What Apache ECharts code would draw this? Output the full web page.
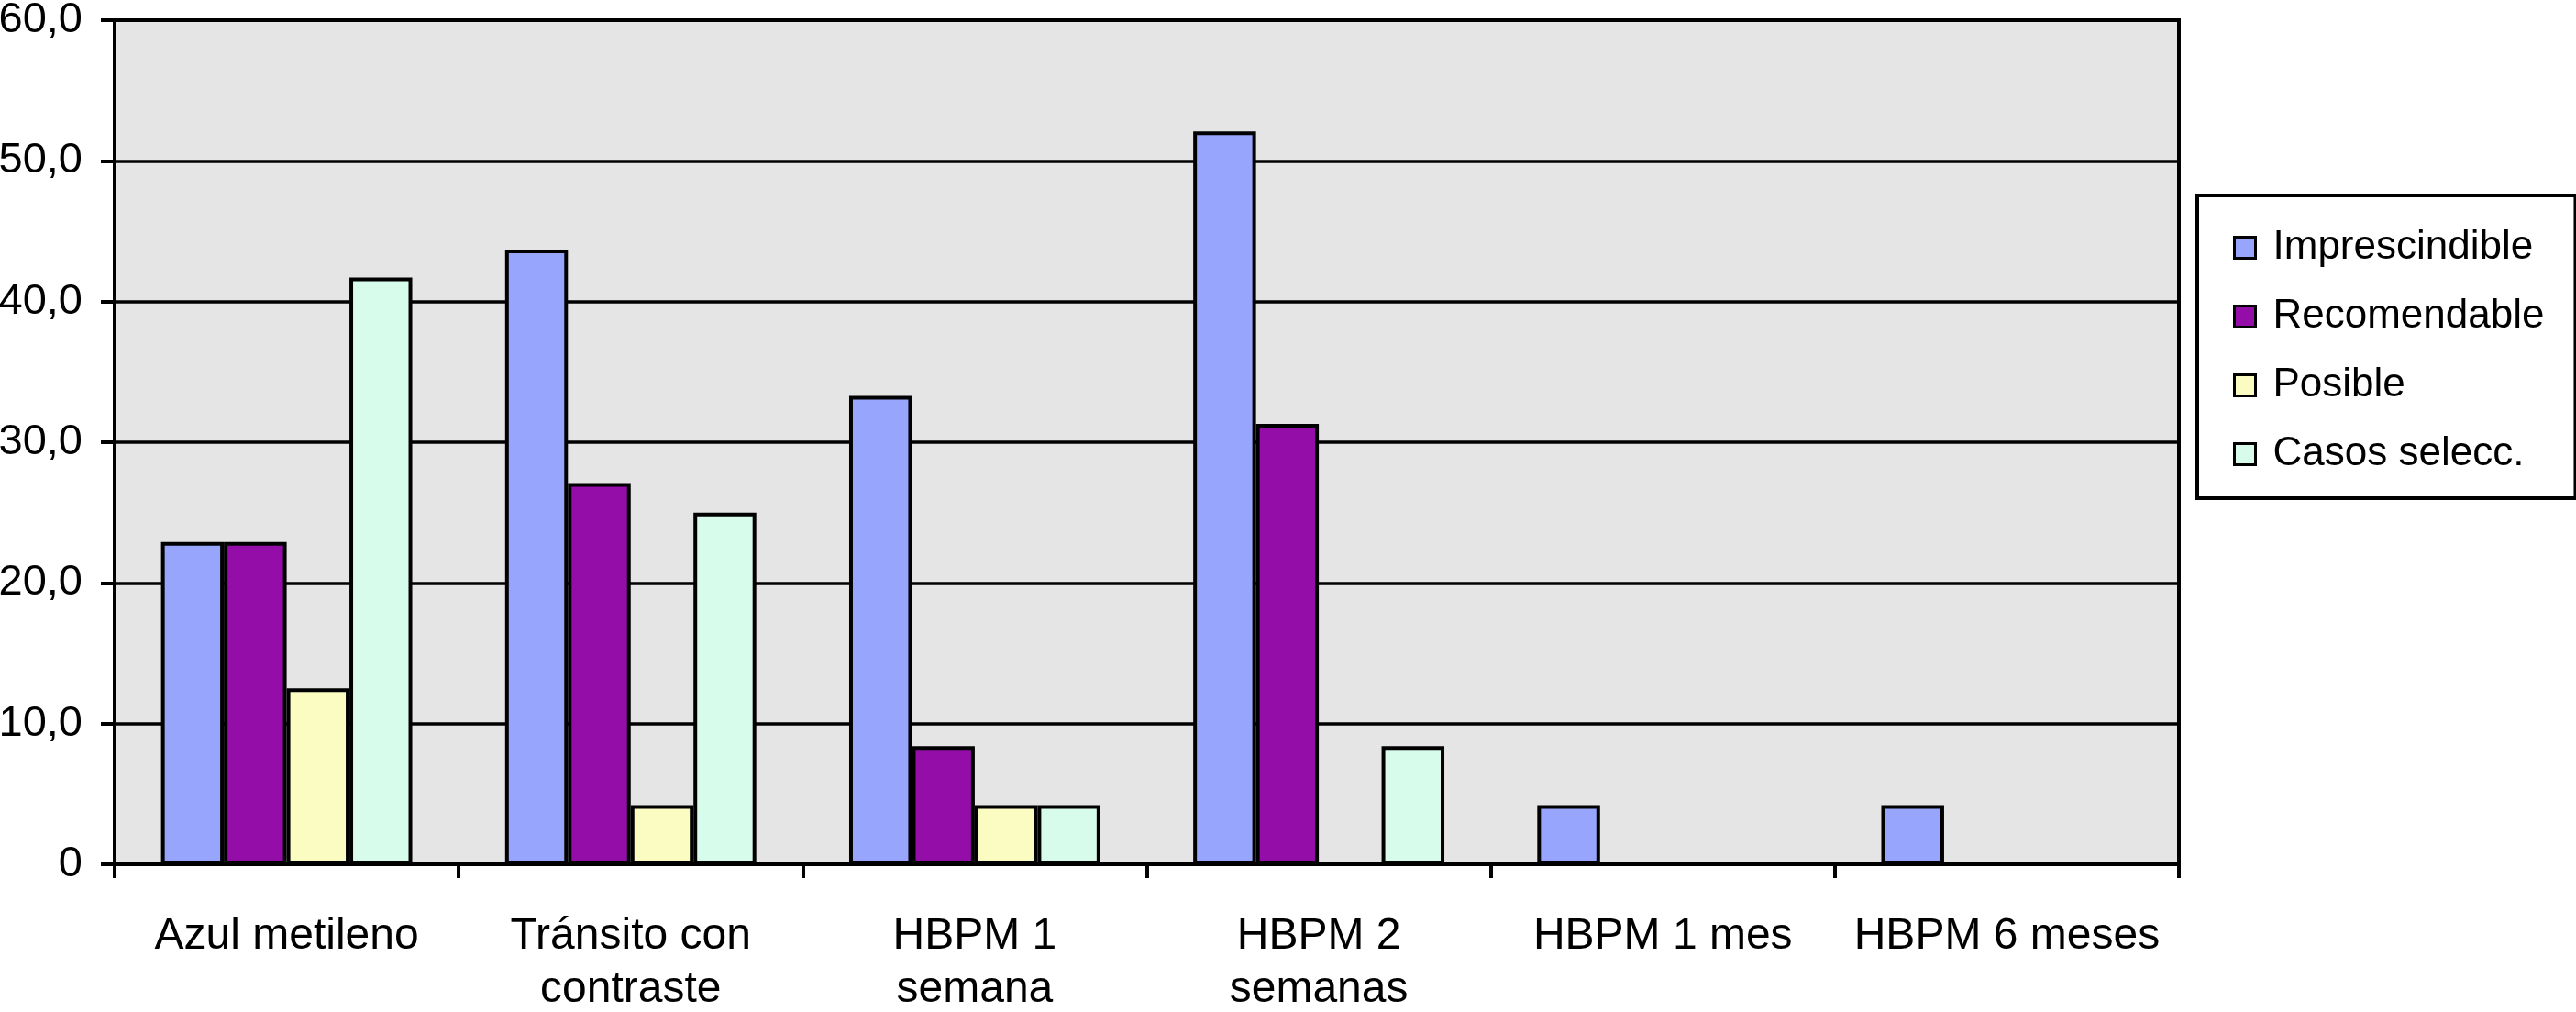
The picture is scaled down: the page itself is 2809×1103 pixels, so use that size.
<!DOCTYPE html>
<html>
<head>
<meta charset="utf-8">
<script src="https://cdn.jsdelivr.net/npm/echarts@6/dist/echarts.min.js"></script>
<style>
html,body{margin:0;padding:0;background:#fff;}
#chart{width:2809px;height:1103px;}
</style>
</head>
<body>
<div id="chart"></div>
<script>
const categories = ['Azul metileno', 'Tránsito con\ncontraste', 'HBPM 1\nsemana', 'HBPM 2\nsemanas', 'HBPM 1 mes', 'HBPM 6 meses'];
const seriesNames = ['Imprescindible', 'Recomendable', 'Posible', 'Casos selecc.'];
const imprescindible = [22.9, 43.7, 33.3, 52.1, 4.2, 4.2];
const recomendable = [22.9, 27.1, 8.4, 31.3, null, null];
const posible = [12.5, 4.2, 4.2, null, null, null];
const casosSelecc = [41.7, 25.0, 4.2, 8.4, null, null];
const yTickValues = [0, 10, 20, 30, 40, 50, 60];
const yTickLabels = ['0', '10,0', '20,0', '30,0', '40,0', '50,0', '60,0'];
const colors = ['#97A6FC', '#940DA8', '#FAFCC2', '#D8FCEC'];

const FONT = '"Liberation Sans", Arial, sans-serif';
const chart = echarts.init(document.getElementById('chart'), null, {renderer: 'canvas'});
const dataSets = [imprescindible, recomendable, posible, casosSelecc];

chart.setOption({
  animation: false,
  backgroundColor: '#ffffff',
  color: colors,
  grid: {
    left: 125, right: 433, top: 22, bottom: 161,
    containLabel: false, outerBoundsMode: 'none',
    show: true, backgroundColor: '#E5E5E5', borderColor: '#000', borderWidth: 4
  },
  legend: {
    orient: 'vertical',
    left: 2396, top: 213,
    padding: [35, 34, 26, 39],
    itemGap: 31,
    itemWidth: 23, itemHeight: 23,
    borderColor: '#000', borderWidth: 4,
    backgroundColor: '#fff',
    icon: 'rect',
    itemStyle: {borderColor: '#000', borderWidth: 3},
    textStyle: {fontFamily: FONT, fontSize: 44, color: '#000', lineHeight: 44, padding: [0, 0, 0, 14]},
    data: seriesNames
  },
  xAxis: {
    type: 'category',
    data: categories,
    axisLine: {show: true, lineStyle: {color: '#000', width: 4}},
    axisTick: {show: true, length: 15, lineStyle: {color: '#000', width: 4}},
    axisLabel: {fontFamily: FONT, fontSize: 48, color: '#000', margin: 50, lineHeight: 58, interval: 0},
    splitLine: {show: false}
  },
  yAxis: {
    type: 'value',
    min: 0, max: 60, interval: 10,
    axisLine: {show: true, lineStyle: {color: '#000', width: 4}},
    axisTick: {show: true, length: 15, lineStyle: {color: '#000', width: 4}},
    axisLabel: {
      fontFamily: FONT, fontSize: 47, color: '#000', margin: 35,
      formatter: function (v) { const i = yTickValues.indexOf(v); return i >= 0 ? yTickLabels[i] : ''; }
    },
    splitLine: {show: true, lineStyle: {color: '#000', width: 3.5}}
  },
  series: seriesNames.map(function (name, i) {
    return {
      name: name,
      type: 'bar',
      data: dataSets[i],
      barGap: '0%',
      barCategoryGap: '27%',
      itemStyle: {color: colors[i], borderColor: '#000', borderWidth: 4}
    };
  })
});
</script>
</body>
</html>
